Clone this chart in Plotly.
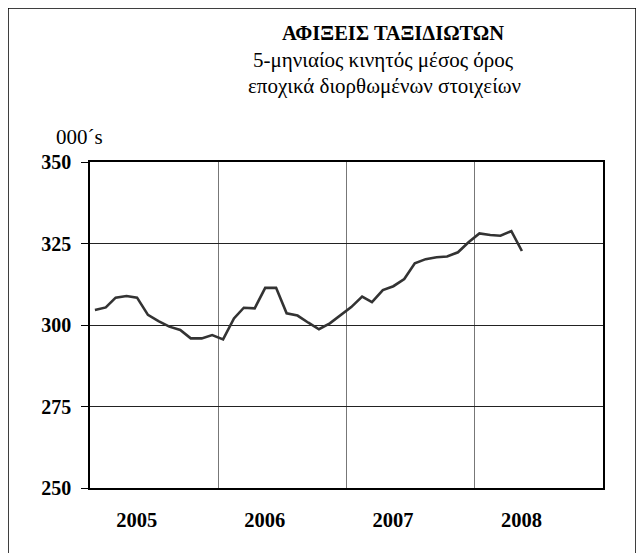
"""Travellers arrivals - 5-month moving average chart."""
import pandas as pd
import plotly.graph_objects as go

# thousands of arrivals, monthly, seasonally adjusted 5-month moving average
arrivals_2005 = [304.6, 305.4, 308.4, 308.9, 308.4, 303.1, 301.2, 299.5, 298.5, 295.9, 295.9, 296.9]
arrivals_2006 = [295.6, 302.0, 305.3, 305.1, 311.4, 311.4, 303.6, 302.9, 300.7, 298.7, 300.5, 303.1]
arrivals_2007 = [305.5, 308.7, 307.0, 310.7, 311.9, 314.1, 318.9, 320.2, 320.8, 321.0, 322.3, 325.4]
arrivals_2008 = [328.1, 327.6, 327.4, 328.8, 322.7]
years = ["2005", "2006", "2007", "2008"]

values = arrivals_2005 + arrivals_2006 + arrivals_2007 + arrivals_2008
months = pd.date_range("2005-01-01", periods=len(values), freq="MS") + pd.Timedelta(days=14)
year_label_pos = [f"{y}-05-14" for y in years]

FONT = "Liberation Serif"

fig = go.Figure()
fig.add_trace(
    go.Scatter(
        x=months,
        y=values,
        mode="lines",
        line=dict(color="#333333", width=2.6),
        hovertemplate="%{x|%b %Y}<br>%{y:.1f}<extra></extra>",
        showlegend=False,
    )
)

fig.update_xaxes(
    type="date",
    range=["2005-01-01", "2009-01-01"],
    tickvals=year_label_pos,
    ticktext=years,
    ticks="",
    showgrid=False,
    showline=True,
    linecolor="black",
    linewidth=1.5,
    mirror=True,
    tickfont=dict(family=FONT, size=20.5, color="black", weight="bold"),
    ticklabelstandoff=13,
    minor=dict(tick0="2005-01-01", dtick="M12", showgrid=True, gridcolor="#777777", gridwidth=1),
)
fig.update_yaxes(
    range=[250, 350],
    dtick=25,
    ticks="outside",
    ticklen=7,
    tickcolor="black",
    showgrid=True,
    gridcolor="#222222",
    gridwidth=1,
    showline=True,
    linecolor="black",
    linewidth=1.5,
    mirror=True,
    zeroline=False,
    tickfont=dict(family=FONT, size=20, color="black", weight="bold"),
    ticklabelstandoff=6,
)

# page body has an 8px margin, so the figure is drawn 8px in from the window edge
off = 8
left, right = 90 - off, 603 - off
top, bottom = 162 - off, 488 - off
w_px, h_px = right - left, bottom - top


def px_x(x):
    return (x - off - left) / w_px


def px_y(y):
    return (bottom - (y - off)) / h_px


title_lines = [
    ("ΑΦΙΞΕΙΣ ΤΑΞΙΔΙΩΤΩΝ", 393, 33, 20.5, "bold"),
    ("5-μηνιαίος κινητός μέσος όρος", 383.5, 60, 21, "normal"),
    ("εποχικά διορθωμένων στοιχείων", 384, 86, 21, "normal"),
]
for text, xc, yc, size, weight in title_lines:
    fig.add_annotation(
        text=text, x=px_x(xc), y=px_y(yc), xref="paper", yref="paper",
        showarrow=False, xanchor="center", yanchor="middle",
        font=dict(family=FONT, size=size, color="black", weight=weight),
    )
fig.add_annotation(
    text="000´s", x=px_x(54), y=px_y(137), xref="paper", yref="paper",
    showarrow=False, xanchor="left", yanchor="middle",
    font=dict(family=FONT, size=21, color="black"),
)

# outer frame around the whole chart
fig.add_shape(
    type="rect", xref="paper", yref="paper",
    x0=px_x(8), x1=px_x(636),
    y0=-0.3, y1=px_y(8),
    line=dict(color="black", width=1.5),
)

fig.update_layout(
    width=636,
    height=545,
    margin=dict(l=left, r=636 - right, t=top, b=545 - bottom),
    paper_bgcolor="white",
    plot_bgcolor="white",
    font=dict(family=FONT, color="black"),
)
fig.write_html("out.html")
